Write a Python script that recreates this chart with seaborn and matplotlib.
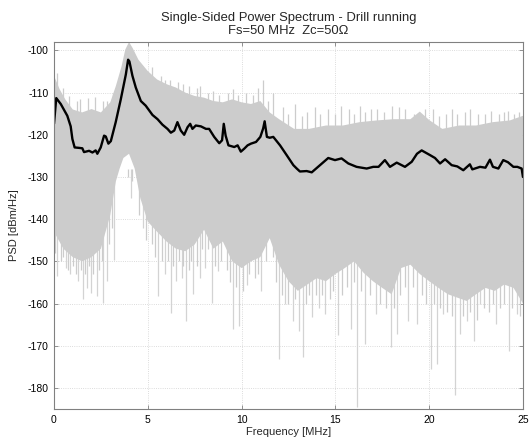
import numpy as np
import pandas as pd
import matplotlib
matplotlib.use("Agg")
import matplotlib.pyplot as plt
import seaborn as sns

# ---------------- data ----------------
mean_freq = [0.0, 0.12, 0.36, 0.71, 0.89, 0.98, 1.1, 1.33, 1.51, 1.6, 1.87, 2.05, 2.22, 2.31,
             2.49, 2.67, 2.76, 2.9, 3.03, 3.29, 3.56, 3.83, 3.95, 4.02, 4.18, 4.36, 4.63, 4.89,
             5.25, 5.52, 5.78, 6.05, 6.23, 6.41, 6.58, 6.76, 6.94, 7.12, 7.26, 7.38, 7.56, 7.83,
             8.1, 8.27, 8.54, 8.81, 8.96, 9.05, 9.15, 9.3, 9.61, 9.79, 9.96, 10.14, 10.32, 10.5,
             10.77, 11.0, 11.15, 11.23, 11.35, 11.5, 11.69, 12.05, 12.4, 12.76, 12.94, 13.11,
             13.47, 13.74, 14.18, 14.62, 14.98, 15.33, 15.69, 16.13, 16.67, 17.02, 17.3, 17.64,
             17.91, 18.27, 18.71, 19.07, 19.35, 19.6, 20.04, 20.31, 20.58, 20.85, 21.2, 21.5,
             21.82, 22.17, 22.3, 22.71, 23.0, 23.24, 23.4, 23.69, 23.95, 24.2, 24.49, 24.7,
             24.93, 25.0]
mean_psd = [-117.4, -111.3, -112.7, -115.5, -118.0, -121.0, -123.0, -123.1, -123.2, -124.1,
            -123.8, -124.2, -123.7, -124.5, -123.0, -120.2, -120.4, -122.1, -121.5, -117.0,
            -111.6, -105.7, -102.2, -102.6, -106.0, -108.8, -112.0, -113.1, -115.3, -116.3,
            -117.6, -118.6, -119.5, -119.0, -117.0, -119.0, -120.0, -118.2, -117.4, -118.6,
            -117.8, -118.0, -118.6, -118.6, -120.5, -122.0, -121.3, -117.4, -120.2, -122.5,
            -122.9, -122.5, -124.0, -123.3, -122.5, -122.1, -121.7, -120.5, -118.5, -116.8,
            -120.5, -120.7, -120.5, -122.5, -124.8, -127.2, -128.0, -128.7, -128.6, -128.9,
            -127.2, -125.5, -126.0, -125.6, -126.8, -127.6, -128.0, -127.6, -127.6, -126.0,
            -127.6, -126.6, -127.6, -126.4, -124.5, -123.7, -124.8, -125.5, -126.8, -125.8,
            -127.2, -127.5, -128.4, -127.0, -128.2, -127.6, -127.8, -125.9, -127.6, -128.0,
            -126.0, -126.5, -127.6, -127.6, -128.0, -130.0]

upper_freq = [0.0, 0.3, 0.6, 1.0, 1.5, 2.0, 2.5, 3.0, 3.3, 3.6, 3.8, 4.0, 4.2, 4.5, 5.0, 5.5,
              6.0, 6.5, 7.0, 7.5, 8.0, 8.5, 9.0, 9.5, 10.0, 10.5, 11.0, 11.5, 12.0, 12.8, 13.6,
              14.5, 15.4, 16.3, 17.2, 18.1, 19.0, 19.5, 20.0, 20.7, 21.6, 22.5, 23.4, 24.3, 25.0]
upper_psd = [-106.0, -109.2, -111.6, -114.0, -114.7, -113.9, -114.7, -112.3, -108.4, -103.8,
             -99.8, -98.0, -99.5, -102.2, -104.9, -106.9, -108.0, -108.8, -110.0, -110.8,
             -111.2, -112.0, -112.3, -111.6, -112.3, -112.7, -112.0, -114.7, -116.3, -118.6,
             -118.6, -117.8, -117.8, -117.0, -116.6, -116.3, -116.3, -114.5, -116.5, -118.6,
             -117.8, -117.8, -117.0, -116.6, -115.5]

lower_freq = [0.0, 0.5, 1.0, 1.5, 2.0, 2.5, 3.0, 3.3, 3.5, 3.7, 4.0, 4.3, 4.6, 5.0, 5.5, 6.0,
              6.5, 7.0, 7.5, 8.0, 8.5, 9.0, 9.5, 10.0, 10.5, 11.0, 11.5, 12.0, 12.5, 13.0, 13.5,
              14.0, 14.5, 15.0, 15.5, 16.0, 16.5, 17.0, 17.5, 18.0, 18.5, 19.0, 19.5, 20.0, 20.5,
              21.0, 21.5, 22.0, 22.5, 23.0, 23.5, 24.0, 24.5, 25.0]
lower_psd = [-143.0, -147.0, -149.0, -150.0, -149.0, -147.0, -139.0, -131.0, -128.0, -125.5,
             -124.5, -128.0, -135.0, -140.6, -143.0, -145.3, -147.0, -147.6, -146.0, -142.5,
             -147.0, -145.3, -150.0, -151.6, -150.0, -149.0, -144.5, -150.8, -154.7, -157.0,
             -155.5, -154.0, -154.7, -153.0, -151.6, -150.0, -152.7, -154.7, -156.3, -157.8,
             -151.6, -150.8, -153.0, -154.7, -156.3, -157.8, -158.6, -159.4, -157.8, -156.3,
             -157.0, -155.5, -156.3, -160.0]

# deep downward spikes of single traces
deep_spike_freq = [0.18, 0.62, 0.85, 1.3, 1.56, 1.74, 1.96, 2.27, 2.63, 2.84, 3.21, 4.08, 4.76,
                   5.56, 5.92, 6.24, 6.5, 6.8, 7.04, 7.42, 7.78, 8.05, 8.4, 8.76, 9.56, 9.88,
                   10.27, 11.02, 12.0, 12.32, 12.72, 13.08, 13.29, 13.73, 14.14, 14.44, 15.15,
                   15.81, 16.13, 16.6, 17.17, 17.96, 18.26, 18.89, 19.37, 20.1, 20.4, 20.76,
                   21.37, 21.64, 22.0, 22.39, 22.71, 23.57, 24.23, 24.67]
deep_spike_psd = [-153.5, -151.6, -153.0, -154.7, -159.0, -156.3, -157.5, -158.2, -159.8, -154.7,
                  -149.6, -135.0, -142.2, -158.2, -153.0, -162.2, -154.7, -153.9, -164.1, -157.8,
                  -153.9, -151.6, -159.8, -152.4, -166.1, -165.3, -155.5, -157.0, -173.1, -160.2,
                  -164.1, -166.5, -172.7, -163.3, -161.0, -162.5, -167.5, -166.0, -184.5, -169.6,
                  -162.5, -170.4, -167.3, -164.1, -164.9, -175.5, -174.3, -162.5, -181.8, -167.3,
                  -164.1, -168.8, -160.2, -164.9, -171.2, -162.5]

# shallower downward spikes along the lower edge
edge_spike_freq = [0.05, 0.35, 0.5, 0.75, 1.0, 1.15, 1.45, 1.65, 1.85, 2.1, 2.4, 2.55, 2.95, 3.1,
                   3.95, 4.15, 4.55, 4.9, 5.2, 5.4, 5.75, 6.1, 6.35, 6.65, 6.9, 7.2, 7.3, 7.6,
                   7.9, 8.2, 8.6, 8.9, 9.2, 9.4, 9.7, 10.1, 10.4, 10.7, 10.85, 11.3, 11.65, 11.85,
                   12.15, 12.5, 12.85, 13.45, 13.6, 13.95, 14.3, 14.7, 14.9, 15.35, 15.6, 16.0,
                   16.35, 16.85, 17.4, 17.7, 18.1, 18.45, 18.7, 19.15, 19.6, 19.85, 20.25, 20.6,
                   20.95, 21.2, 21.8, 22.2, 22.55, 22.9, 23.2, 23.4, 23.8, 24.0, 24.4, 24.85]
edge_spike_psd = [-148, -150, -149, -152, -151, -153, -152, -153, -151, -153, -152, -150, -146,
                  -142, -130, -131, -139, -145, -146, -149, -150, -150, -151, -150, -151, -152,
                  -150, -151, -147, -147, -151, -150, -152, -155, -156, -157, -153, -154, -153,
                  -150, -149, -155, -158, -160, -159, -160, -158, -158, -158, -159, -157, -158,
                  -156, -155, -157, -158, -160, -161, -161, -158, -156, -156, -158, -160, -160,
                  -161, -162, -163, -163, -162, -164, -161, -162, -160, -161, -160, -161, -163]

# upward spikes along the upper edge
up_spike_freq = [0.18, 0.5, 0.8, 1.2, 1.4, 1.8, 2.2, 2.6, 2.85, 3.15, 5.2, 5.7, 5.9, 6.2, 6.6,
                 6.9, 7.2, 7.6, 7.8, 8.2, 8.5, 8.8, 9.3, 9.55, 9.8, 10.25, 10.6, 10.9, 11.16,
                 11.4, 11.7, 12.2, 12.5, 12.85, 13.2, 13.5, 13.9, 14.2, 14.6, 15.0, 15.3, 15.7,
                 16.0, 16.3, 16.6, 16.9, 17.2, 17.6, 18.0, 18.4, 18.7, 19.2, 19.8, 20.2, 20.5,
                 20.9, 21.2, 21.5, 21.9, 22.2, 22.6, 23.0, 23.3, 23.7, 24.0, 24.2, 24.5, 24.8]
up_spike_psd = [-105.3, -109.0, -110.8, -112.0, -111.5, -111.2, -111.0, -112.0, -112.0, -110.0,
                -104.0, -106.0, -106.9, -107.0, -107.5, -108.0, -108.5, -109.0, -108.4, -110.0,
                -109.6, -110.5, -110.0, -109.2, -110.5, -110.0, -110.5, -109.0, -106.9, -112.0,
                -110.0, -113.5, -115.0, -112.7, -115.5, -114.5, -113.5, -115.0, -114.0, -115.0,
                -113.1, -114.0, -115.0, -113.1, -114.5, -113.9, -114.0, -114.5, -113.1, -113.5,
                -114.0, -115.0, -114.0, -113.9, -115.5, -115.0, -113.9, -115.0, -114.5, -113.9,
                -115.0, -115.0, -114.3, -115.0, -114.5, -114.3, -115.0, -114.7]

title_lines = ["Single-Sided Power Spectrum - Drill running", "Fs=50 MHz  Zc=50\u03a9"]
x_ticks = [0, 5, 10, 15, 20, 25]
y_ticks = [-180, -170, -160, -150, -140, -130, -120, -110, -100]

# ---------------- figure ----------------
sns.set_theme(style="white")
plt.rcParams["font.family"] = ["Liberation Sans", "DejaVu Sans"]

fig = plt.figure(figsize=(5.32, 4.41), dpi=100)
ax = fig.add_axes([0.1015, 0.0726, 0.8815, 0.8322])

band_gray = "#cccccc"
spike_gray = "#d3d3d3"

# individual spikes of the traces (behind the dense band)
ax.vlines(deep_spike_freq, deep_spike_psd, [-128.0] * len(deep_spike_freq),
          color=spike_gray, lw=0.9, zorder=0.8)
ax.vlines(edge_spike_freq, edge_spike_psd, [-128.0] * len(edge_spike_freq),
          color=band_gray, lw=0.9, zorder=0.8)
ax.vlines(up_spike_freq, [-120.0] * len(up_spike_freq), up_spike_psd,
          color=band_gray, lw=0.9, zorder=0.8)

# dense band of all traces
poly_x = list(upper_freq) + list(lower_freq[::-1])
poly_y = list(upper_psd) + list(lower_psd[::-1])
ax.fill(poly_x, poly_y, color=band_gray, lw=0, zorder=1)

# mean trace
df = pd.DataFrame({"f": mean_freq, "psd": mean_psd})
sns.lineplot(data=df, x="f", y="psd", ax=ax, color="black", lw=1.7, zorder=3,
             estimator=None, sort=False)

ax.set_xlim(0, 25)
ax.set_ylim(-185, -98)
ax.set_xticks(x_ticks)
ax.set_yticks(y_ticks)
ax.set_xticklabels([str(t) for t in x_ticks])
ax.set_yticklabels([str(t) for t in y_ticks])

ax.grid(True, color="#d0d0d0", ls=":", lw=0.6)
ax.set_axisbelow(True)
for s in ax.spines.values():
    s.set_color("#808080")
    s.set_linewidth(0.8)
    s.set_visible(True)
    s.set_zorder(4)
ax.tick_params(direction="in", length=3, width=0.6, color="#808080",
               top=True, right=True, bottom=True, left=True,
               labelsize=7.5, labelcolor="black", pad=4)

ax.set_xlabel("Frequency [MHz]", fontsize=8, labelpad=2)
ax.set_ylabel("PSD [dBm/Hz]", fontsize=8, labelpad=6)
ax.set_title("\n".join(title_lines), fontsize=9.4, pad=6, linespacing=1.1)

fig.savefig("out.png", dpi=100, facecolor="white")
